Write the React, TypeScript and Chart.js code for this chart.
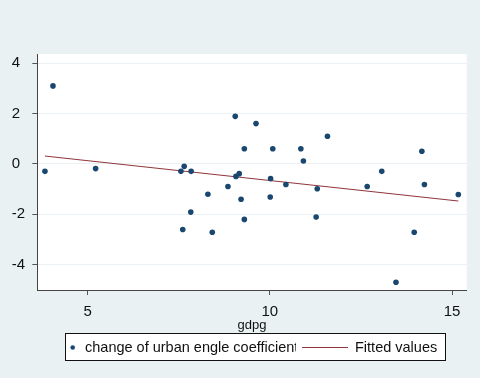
import React, { useEffect, useRef } from "react";
import { Chart, registerables } from "chart.js";

Chart.register(...registerables);

// ---- data ----
const gdpg = [
  3.83, 4.05, 5.22, 7.56, 7.65, 7.84, 8.85, 9.05, 9.07, 9.16, 9.3, 9.62,
  10.08, 10.02, 10.44, 10.85, 10.92, 11.3, 7.61, 7.83, 8.3, 8.42, 9.21, 9.3,
  10.01, 11.27, 11.58, 14.17, 13.07, 12.67, 14.24, 15.17, 13.96, 13.46,
];
const urbanEngleChange = [
  -0.3, 3.1, -0.19, -0.3, -0.1, -0.3, -0.9, 1.89, -0.5, -0.39, 0.6, 1.6,
  0.6, -0.59, -0.82, 0.6, 0.11, -0.99, -2.61, -1.92, -1.21, -2.72, -1.41, -2.21,
  -1.32, -2.12, 1.1, 0.5, -0.3, -0.9, -0.82, -1.22, -2.72, -4.71,
];
const fittedX = [3.83, 15.17];
const fittedY = [0.31, -1.48];
const xTicks = [5, 10, 15];
const yTicks = [-4, -2, 0, 2, 4];
const xRange = [3.62, 15.4];
const yRange = [-5.02, 4.37];
const xTitle = "gdpg";
const legendLabels = ["change of urban engle coefficient", "Fitted values"];

// ---- styles ----
const FAMILY = "'Liberation Sans', Arial, sans-serif";
const BG = "#EAF1F3";
const NAVY = "#1A476F";
const MAROON = "#90353B";
const TEXT = "#111111";

const bgPlugin = {
  id: "stataBg",
  beforeDraw(chart: any) {
    const { ctx, chartArea } = chart;
    ctx.save();
    ctx.fillStyle = BG;
    ctx.fillRect(0, 0, chart.width, chart.height);
    ctx.fillStyle = "#ffffff";
    ctx.fillRect(
      chartArea.left,
      chartArea.top,
      chartArea.right - chartArea.left,
      chartArea.bottom - chartArea.top
    );
    ctx.restore();
  },
};

const legendPlugin = {
  id: "stataLegend",
  afterDraw(chart: any) {
    const { ctx } = chart;
    const boxL = 65.5, boxR = 445.5, boxT = 333.5, boxB = 360.5;
    const cy = (boxT + boxB) / 2 + 0.5;
    ctx.save();
    ctx.fillStyle = "#ffffff";
    ctx.fillRect(boxL, boxT, boxR - boxL, boxB - boxT);
    ctx.strokeStyle = "#111111";
    ctx.lineWidth = 1;
    ctx.strokeRect(boxL, boxT, boxR - boxL, boxB - boxT);

    ctx.fillStyle = NAVY;
    ctx.beginPath();
    ctx.arc(72.7, cy, 2.3, 0, Math.PI * 2);
    ctx.fill();

    ctx.font = `14.5px ${FAMILY}`;
    ctx.textBaseline = "middle";
    ctx.textAlign = "left";
    ctx.fillStyle = TEXT;
    ctx.save();
    ctx.beginPath();
    ctx.rect(80, boxT, 296 - 80, boxB - boxT);
    ctx.clip();
    ctx.fillText(legendLabels[0], 85, cy);
    ctx.restore();

    ctx.strokeStyle = MAROON;
    ctx.beginPath();
    ctx.moveTo(302, cy);
    ctx.lineTo(348, cy);
    ctx.stroke();

    ctx.fillStyle = TEXT;
    ctx.fillText(legendLabels[1], 355, cy);
    ctx.restore();
  },
};

export default function App() {
  const ref = useRef<HTMLCanvasElement>(null);

  useEffect(() => {
    const canvas = ref.current;
    if (!canvas) return;
    const tickFont = { family: FAMILY, size: 15 };
    const chart = new Chart(canvas, {
      type: "scatter",
      data: {
        datasets: [
          {
            type: "scatter",
            label: legendLabels[0],
            data: gdpg.map((x, i) => ({ x, y: urbanEngleChange[i] })),
            pointRadius: 2.8,
            pointBackgroundColor: NAVY,
            pointBorderWidth: 0,
            pointBorderColor: NAVY,
            order: 0,
          },
          {
            type: "line",
            label: legendLabels[1],
            data: fittedX.map((x, i) => ({ x, y: fittedY[i] })),
            borderColor: MAROON,
            borderWidth: 1,
            pointRadius: 0,
            fill: false,
            order: 1,
          },
        ] as any,
      },
      options: {
        responsive: false,
        animation: false,
        layout: { padding: { left: 11.7, top: 54, right: 13.3, bottom: 378 - 290 - 42.8 } },
        plugins: { legend: { display: false }, tooltip: { enabled: false } },
        scales: {
          x: {
            type: "linear",
            min: xRange[0],
            max: xRange[1],
            afterBuildTicks: (s: any) => {
              s.ticks = xTicks.map((v) => ({ value: v }));
            },
            afterFit: (s: any) => {
              s.height = 42.8;
            },
            grid: { drawOnChartArea: false, tickLength: 5, tickColor: "#555555" },
            border: { color: "#444444", width: 1 },
            ticks: { font: tickFont, color: TEXT, padding: 8, maxRotation: 0, autoSkip: false },
            title: {
              display: true,
              text: xTitle,
              font: { family: FAMILY, size: 13 },
              color: TEXT,
              padding: 0,
            },
          },
          y: {
            type: "linear",
            min: yRange[0],
            max: yRange[1],
            afterBuildTicks: (s: any) => {
              s.ticks = yTicks.map((v) => ({ value: v }));
            },
            afterFit: (s: any) => {
              s.width = 25.6;
            },
            grid: { color: "#EAF0F3", lineWidth: 1, tickLength: 5, tickColor: "#555555" },
            border: { color: "#444444", width: 1 },
            ticks: { font: tickFont, color: TEXT, crossAlign: "far", autoSkip: false },
          },
        },
      } as any,
      plugins: [bgPlugin, legendPlugin],
    });
    return () => chart.destroy();
  }, []);

  return (
    <div style={{ position: "absolute", left: 0, top: 0, width: 480, height: 378 }}>
      <canvas ref={ref} width={480} height={378} style={{ display: "block" }} />
    </div>
  );
}
